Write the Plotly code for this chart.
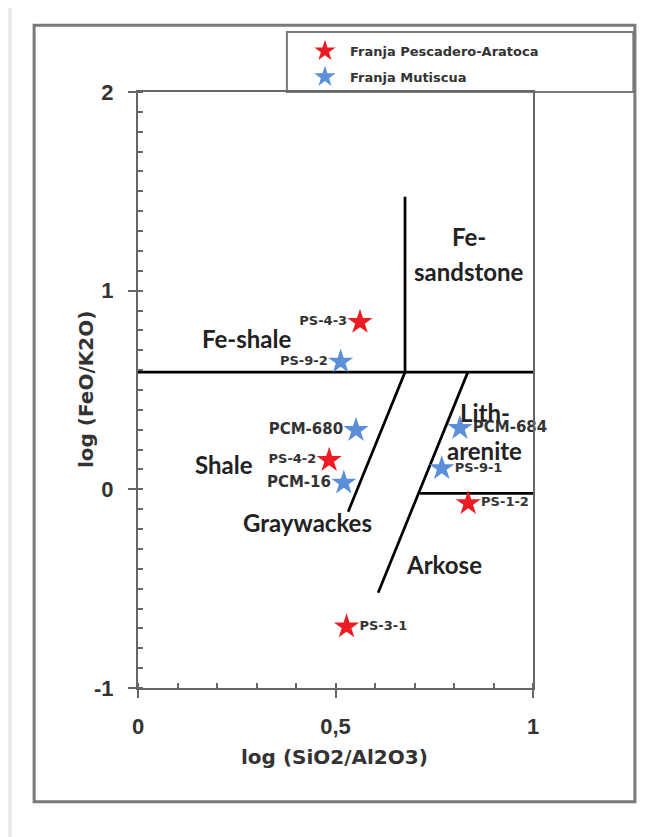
import plotly.graph_objects as go

# ---- data ----
red_names = ["PS-4-3", "PS-4-2", "PS-1-2", "PS-3-1"]
red_x = [0.562, 0.484, 0.836, 0.528]
red_y = [0.842, 0.147, -0.070, -0.691]
red_pos = ["middle left", "middle left", "middle right", "middle right"]
red_label_size = [13, 13, 13, 13]

blue_names = ["PS-9-2", "PCM-680", "PCM-16", "PCM-684", "PS-9-1"]
blue_x = [0.513, 0.552, 0.521, 0.815, 0.769]
blue_y = [0.642, 0.298, 0.033, 0.308, 0.106]
blue_pos = ["middle left", "middle left", "middle left", "middle right", "middle right"]
blue_label_size = [13, 15, 15, 15, 13]

# field boundaries (x list, y list)
boundary_h_top = ([0.0, 1.0], [0.59, 0.59])
boundary_v = ([0.676, 0.676], [0.59, 1.473])
boundary_gray = ([0.676, 0.532], [0.59, -0.113])
boundary_ark = ([0.835, 0.608], [0.59, -0.52])
boundary_h_low = ([0.714, 1.0], [-0.02, -0.02])

field_names = ["Fe-", "sandstone", "Fe-shale", "Shale", "Graywackes", "Lith-", "arenite", "Arkose"]
field_x = [0.838, 0.838, 0.277, 0.217, 0.429, 0.878, 0.878, 0.775]
field_y = [1.275, 1.096, 0.761, 0.127, -0.165, 0.385, 0.198, -0.376]

x_ticks = [0, 0.5, 1]
x_tick_labels = ["0", "0,5", "1"]
y_ticks = [-1, 0, 1, 2]
y_tick_labels = ["-1", "0", "1", "2"]

RED = "#ec1c24"
BLUE = "#5b8fd8"
AX = "#666666"

fig = go.Figure()

for bx, by in [boundary_h_top, boundary_v, boundary_gray, boundary_ark, boundary_h_low]:
    fig.add_trace(go.Scatter(x=bx, y=by, mode="lines", line=dict(color="black", width=2.7),
                             showlegend=False, hoverinfo="skip"))

for t, fx, fy in zip(field_names, field_x, field_y):
    fig.add_annotation(x=fx, y=fy, text=t, showarrow=False,
                       font=dict(family="Lato, Open Sans", size=24, color="#222222", weight="bold"))

fig.add_trace(go.Scatter(x=red_x, y=red_y, mode="markers+text", text=red_names,
                         textposition=red_pos, cliponaxis=False,
                         textfont=dict(family="DejaVu Sans", size=red_label_size, color="#333333", weight="bold"),
                         marker=dict(symbol="star", size=19, color=RED, line=dict(width=0)),
                         name="Franja Pescadero-Aratoca", legendgroup="a"))
fig.add_trace(go.Scatter(x=blue_x, y=blue_y, mode="markers+text", text=blue_names,
                         textposition=blue_pos, cliponaxis=False,
                         textfont=dict(family="DejaVu Sans", size=blue_label_size, color="#333333", weight="bold"),
                         marker=dict(symbol="star", size=19, color=BLUE, line=dict(width=0)),
                         name="Franja Mutiscua", legendgroup="b"))

title_font = dict(family="DejaVu Sans", size=20, color="#333333", weight="bold")
fig.add_annotation(xref="paper", yref="paper", x=(334 - 138) / 395, y=(688 - 771) / 596,
                   text="log (SiO2/Al2O3)", showarrow=False, font=title_font)
fig.add_annotation(xref="paper", yref="paper", x=(72 - 138) / 395, y=(688 - 390) / 596,
                   text="log (FeO/K2O)", textangle=-90, showarrow=False, font=title_font)

# faint page edge line, outer frame and legend box
fig.add_shape(type="line", xref="paper", yref="paper", x0=-0.324, x1=-0.324, y0=-0.26, y1=1.16,
              line=dict(color="#ebebeb", width=4), layer="below")
fig.add_shape(type="rect", xref="paper", yref="paper", x0=-0.263, x1=1.258, y0=-0.191, y1=1.112,
              line=dict(color="#7a7a7a", width=3), layer="below")
fig.add_shape(type="rect", xref="paper", yref="paper", x0=0.377, x1=1.254, y0=1.0, y1=1.1007,
              line=dict(color="#7a7a7a", width=2), fillcolor="white", layer="below")

tick_font = dict(family="Liberation Sans, Arial", size=22, color="#333333", weight="bold")
fig.update_xaxes(range=[0, 1], tickvals=x_ticks, ticktext=x_tick_labels, showgrid=False, zeroline=False,
                 showline=True, linecolor=AX, linewidth=2, mirror=True,
                 ticks="outside", ticklen=8, tickwidth=1.5, tickcolor=AX,
                 tickfont=tick_font, ticklabelstandoff=10,
                 minor=dict(dtick=0.1, ticks="inside", ticklen=5, tickwidth=1.5, tickcolor=AX, showgrid=False))
fig.update_yaxes(range=[-1, 2], tickvals=y_ticks, ticktext=y_tick_labels, showgrid=False, zeroline=False,
                 showline=True, linecolor=AX, linewidth=2, mirror=True,
                 ticks="outside", ticklen=8, tickwidth=1.5, tickcolor=AX,
                 tickfont=tick_font, ticklabelstandoff=10,
                 minor=dict(dtick=0.1, ticks="inside", ticklen=5, tickwidth=1.5, tickcolor=AX, showgrid=False))

fig.update_layout(
    width=639, height=829,
    margin=dict(l=130, r=114, t=84, b=149),
    plot_bgcolor="white", paper_bgcolor="white",
    legend=dict(x=0.41, y=1.094, xanchor="left", yanchor="top",
                borderwidth=0, bgcolor="rgba(0,0,0,0)",
                font=dict(family="DejaVu Sans", size=13, color="#333333", weight="bold"),
                tracegroupgap=6, itemwidth=40),
    showlegend=True,
)

fig.write_html("out.html")
